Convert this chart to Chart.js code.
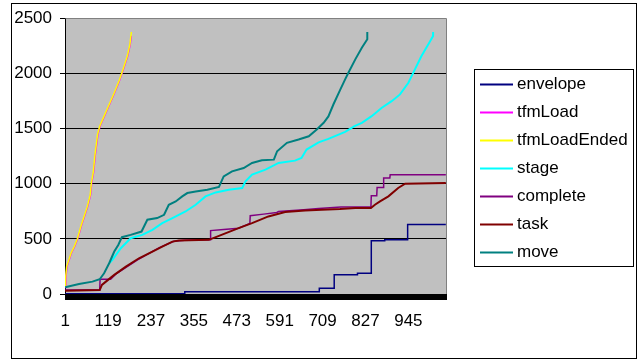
<!DOCTYPE html>
<html>
<head>
<meta charset="utf-8">
<script src="https://cdn.jsdelivr.net/npm/chart.js@4.4.1/dist/chart.umd.min.js"></script>
<style>
  html, body { margin: 0; padding: 0; background: #fff; }
  canvas { display: block; }
</style>
</head>
<body>
<canvas id="c" width="639" height="360"></canvas>
<script>
// ---- data (x = event index, y = cumulative count) ----
const seriesNames = ['envelope', 'tfmLoad', 'tfmLoadEnded', 'stage', 'complete', 'task', 'move'];
const seriesColors = ['#000080', '#FF00FF', '#FFFF00', '#00FFFF', '#800080', '#800000', '#008080'];

const xTickLabels = [1, 119, 237, 355, 473, 591, 709, 827, 945];
const yTicks = [0, 500, 1000, 1500, 2000, 2500];

const envelopeX = [1, 330, 700, 741, 805, 843, 880, 943, 1048];
const envelopeY = [3, 21, 52, 175, 188, 482, 491, 630, 630];

const tfmLoadX = [1, 3, 6, 18, 27, 36, 45, 54, 63, 71, 74, 79, 84, 91, 97, 109, 123, 137, 150, 161, 173, 180, 183];
const tfmLoadY = [60, 143, 248, 370, 430, 506, 612, 703, 794, 900, 1006, 1097, 1264, 1445, 1521, 1612, 1718, 1824, 1930, 2036, 2157, 2263, 2340];

const tfmLoadEndedX = [1, 2, 5, 17, 26, 35, 44, 53, 62, 70, 73, 78, 83, 90, 96, 108, 122, 136, 149, 160, 172, 179, 183];
const tfmLoadEndedY = [70, 143, 248, 370, 430, 506, 612, 703, 794, 900, 1006, 1097, 1264, 1445, 1521, 1612, 1718, 1824, 1930, 2036, 2157, 2263, 2375];

const stageX = [122, 131, 154, 181, 213, 241, 268, 296, 332, 360, 387, 415, 451, 488, 497, 515, 552, 588, 633, 651, 665, 698, 725, 771, 797, 817, 844, 872, 899, 922, 945, 963, 981, 1000, 1013, 1013];
const stageY = [279, 309, 415, 506, 536, 582, 643, 688, 748, 809, 885, 921, 945, 961, 1021, 1082, 1127, 1188, 1209, 1233, 1309, 1375, 1406, 1470, 1521, 1552, 1612, 1688, 1748, 1809, 1915, 2036, 2157, 2263, 2339, 2375];

const completeX = [1, 96, 97, 126, 140, 200, 260, 300, 330, 400, 401, 437, 478, 509, 510, 547, 583, 588, 657, 698, 760, 842, 843, 858, 859, 876, 877, 894, 895, 1048];
const completeY = [36, 36, 134, 134, 180, 310, 420, 478, 488, 492, 575, 585, 597, 640, 709, 724, 739, 748, 764, 775, 788, 790, 891, 891, 965, 965, 1052, 1052, 1082, 1082];

const taskX = [1, 96, 102, 113, 136, 168, 204, 241, 268, 296, 314, 396, 424, 478, 515, 560, 606, 661, 707, 757, 799, 842, 853, 867, 890, 917, 936, 1048];
const taskY = [30, 36, 82, 112, 173, 248, 324, 385, 430, 475, 485, 491, 527, 597, 643, 703, 743, 757, 764, 770, 779, 779, 809, 839, 885, 961, 1000, 1006];

const moveX = [1, 39, 76, 96, 108, 122, 136, 147, 157, 181, 211, 227, 254, 273, 286, 305, 323, 337, 360, 392, 424, 437, 460, 492, 515, 542, 575, 584, 611, 643, 671, 693, 712, 725, 739, 758, 771, 780, 799, 817, 832, 832];
const moveY = [61, 91, 112, 134, 188, 279, 385, 445, 515, 536, 566, 673, 688, 718, 809, 839, 885, 915, 930, 945, 970, 1066, 1112, 1142, 1188, 1212, 1218, 1294, 1370, 1400, 1430, 1491, 1552, 1610, 1720, 1855, 1945, 2006, 2127, 2233, 2309, 2375];

const xs = [envelopeX, tfmLoadX, tfmLoadEndedX, stageX, completeX, taskX, moveX];
const ys = [envelopeY, tfmLoadY, tfmLoadEndedY, stageY, completeY, taskY, moveY];
const widths = [1.5, 1.5, 1.5, 2, 1.5, 2, 2];

const FONT = "'Liberation Sans', Arial, sans-serif";
const X_MIN = 0.5, X_MAX = 1048.5;

const datasets = seriesNames.map((name, i) => ({
  label: name,
  data: xs[i].map((x, k) => ({ x: x, y: ys[i][k] })),
  borderColor: seriesColors[i],
  backgroundColor: seriesColors[i],
  borderWidth: widths[i],
  pointRadius: 0,
  tension: 0,
  fill: false,
  stepped: i === 0 ? 'before' : false,
  order: seriesNames.length - i
}));

const framePlugin = {
  id: 'frame',
  beforeDraw(chart) {
    const ctx = chart.ctx, a = chart.chartArea;
    ctx.save();
    ctx.fillStyle = '#fff';
    ctx.fillRect(0, 0, chart.width, chart.height);
    ctx.fillStyle = '#C0C0C0';
    ctx.fillRect(a.left, a.top, a.right - a.left, a.bottom - a.top);
    ctx.restore();
  },
  afterDraw(chart) {
    const ctx = chart.ctx, a = chart.chartArea;
    ctx.save();
    // plot area right / top border
    ctx.strokeStyle = '#808080';
    ctx.lineWidth = 1;
    ctx.beginPath();
    ctx.moveTo(Math.round(a.left) + 0.5, Math.round(a.top) + 0.5);
    ctx.lineTo(Math.round(a.right) + 0.5, Math.round(a.top) + 0.5);
    ctx.lineTo(Math.round(a.right) + 0.5, Math.round(a.bottom));
    ctx.stroke();
    // outer frame
    ctx.strokeStyle = '#000';
    ctx.strokeRect(11.5, 3.5, 625, 355);
    // legend
    const lx = 474.5, ly = 69.5, lw = 159, lh = 197;
    ctx.fillStyle = '#fff';
    ctx.fillRect(lx, ly, lw, lh);
    ctx.strokeStyle = '#000';
    ctx.lineWidth = 1;
    ctx.strokeRect(lx, ly, lw, lh);
    ctx.font = '17px ' + FONT;
    ctx.textBaseline = 'middle';
    ctx.textAlign = 'left';
    chart.data.datasets.forEach((ds, i) => {
      const y = 84.5 + i * 28;
      ctx.strokeStyle = ds.borderColor;
      ctx.lineWidth = 2;
      ctx.beginPath();
      ctx.moveTo(480, y);
      ctx.lineTo(513, y);
      ctx.stroke();
      ctx.fillStyle = '#000';
      ctx.fillText(ds.label, 517, y);
    });
    ctx.restore();
  }
};

new Chart(document.getElementById('c'), {
  type: 'line',
  data: { datasets: datasets },
  options: {
    responsive: false,
    animation: false,
    devicePixelRatio: 1,
    layout: { padding: { left: 0, right: 193, top: 18, bottom: 0 } },
    plugins: { legend: { display: false }, tooltip: { enabled: false } },
    scales: {
      x: {
        type: 'linear',
        min: X_MIN,
        max: X_MAX,
        afterBuildTicks(scale) {
          const t = [];
          for (let v = X_MIN; v <= X_MAX; v += 1) t.push({ value: v });
          xTickLabels.forEach(v => t.push({ value: v }));
          t.sort((p, q) => p.value - q.value);
          scale.ticks = t;
        },
        afterFit(scale) { scale.height = 66; },
        ticks: {
          autoSkip: false,
          maxRotation: 0,
          minRotation: 0,
          padding: 11,
          color: '#000',
          font: { family: FONT, size: 17 },
          callback: (v) => xTickLabels.includes(v) ? String(v) : ''
        },
        grid: {
          drawOnChartArea: false,
          drawTicks: true,
          tickLength: 6,
          color: (c) => (c.tick && Number.isInteger(c.tick.value)) ? 'rgba(0,0,0,0)' : '#000',
          lineWidth: 1
        },
        border: { display: true, color: '#000', width: 1 }
      },
      y: {
        type: 'linear',
        min: 0,
        max: 2500,
        afterBuildTicks(scale) { scale.ticks = yTicks.map(v => ({ value: v })); },
        afterFit(scale) { scale.width = 65; },
        ticks: {
          padding: 8,
          color: '#000',
          font: { family: FONT, size: 17 },
          callback: (v) => String(v)
        },
        grid: {
          drawTicks: true,
          tickLength: 5,
          color: (c) => (c.tick && c.tick.value === 2500) ? '#808080' : '#000',
          tickColor: '#000',
          lineWidth: 1
        },
        border: { display: true, color: '#000', width: 1 }
      }
    }
  },
  plugins: [framePlugin]
});
</script>
</body>
</html>
